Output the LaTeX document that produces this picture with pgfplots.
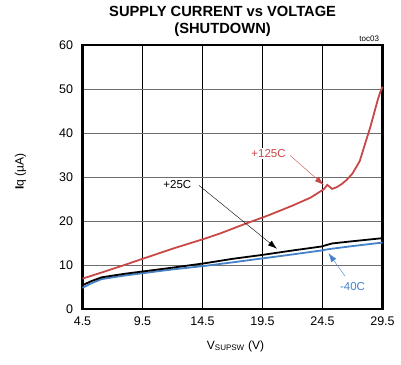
\documentclass[border=0pt]{standalone}
\usepackage{pgfplots}
\pgfplotsset{compat=1.18}
\usetikzlibrary{arrows.meta}
\usepackage{fontspec}
\setmainfont{Liberation Sans}
\definecolor{rc}{RGB}{200,72,72}
\definecolor{bc}{RGB}{70,130,200}
\definecolor{gc}{RGB}{110,110,110}
\begin{document}
\begin{tikzpicture}
\useasboundingbox (-82.5pt,-55pt) rectangle (318.5pt,309pt);
\begin{axis}[
  at={(0pt,0pt)}, anchor=south west,
  scale only axis, width=300pt, height=264pt,
  xmin=4.5, xmax=29.5, ymin=0, ymax=60,
  xtick={4.5,9.5,14.5,19.5,24.5,29.5},
  ytick={0,10,20,30,40,50,60},
  xticklabels={4.5,9.5,14.5,19.5,24.5,29.5},
  major tick length=0pt,
  /pgf/number format/assume math mode=true,
  tick label style={font=\fontsize{12.5}{14}\selectfont},
  yticklabel style={xshift=-6pt},
  xticklabel style={yshift=-4pt},
  axis line style={line width=2.2pt},
  xmajorgrids, ymajorgrids,
  x grid style={black, line width=0.9pt},
  y grid style={gc, line width=0.9pt},
  clip=false,
]
\addplot[rc, line width=1.8pt] coordinates {
(4.5,6.9) (6.1,8.3) (8,10.0) (9.5,11.4) (12,13.7) (14.7,16.0) (16,17.2) (18,19.3) (20,21.3) (22,23.5) (23.5,25.3) (24.6,27.2) (24.9,28.2) (25.3,27.3) (25.7,27.7) (26.1,28.4) (26.5,29.3) (27,30.8) (27.6,33.6) (28.1,38.0) (28.5,41.5) (28.8,44.5) (29.1,47.5) (29.3,49.2) (29.5,50.5)};
\addplot[bc, line width=1.8pt] coordinates {
(4.5,4.8) (5.2,5.8) (6.1,6.8) (8,7.6) (10,8.3) (12,9.0) (14.7,9.8) (17,10.6) (19.5,11.5) (22,12.4) (24.4,13.3) (25,13.6) (27,14.3) (29.5,15.1)};
\addplot[black, line width=1.8pt] coordinates {
(4.5,5.4) (5.2,6.3) (6.1,7.2) (8,8.0) (10,8.7) (12,9.4) (14.7,10.4) (17,11.4) (19.5,12.3) (22,13.3) (24.4,14.2) (25.3,14.9) (27,15.4) (29.5,16.1)};
\node[rc, fill=white, inner sep=1.5pt, font=\fontsize{11.5}{13}\selectfont] at (axis cs:20.0,35.3) {+125C};
\draw[rc, -{Latex[length=9pt,width=6pt]}] (axis cs:21.8,34.9) -- (axis cs:24.6,28.2);
\node[fill=white, inner sep=1.5pt, font=\fontsize{11.5}{13}\selectfont] at (axis cs:12.4,28.4) {+25C};
\draw[black, -{Latex[length=9pt,width=6pt]}] (axis cs:14.2,28.1) -- (axis cs:20.7,13.7);
\node[bc, inner sep=1.5pt, font=\fontsize{11.5}{13}\selectfont] at (axis cs:27.0,5.1) {-40C};
\draw[bc, -{Latex[length=9pt,width=6pt]}] (axis cs:26.4,7.4) -- (axis cs:25.0,12.7);
\node[font=\fontsize{8}{9}\selectfont, anchor=south east] at (rel axis cs:1,1) {toc03};
\node[font=\bfseries\fontsize{14.7}{17}\selectfont, align=center] at (rel axis cs:0.467,1.088) {SUPPLY CURRENT vs VOLTAGE\\(SHUTDOWN)};
\node[font=\fontsize{12}{14}\selectfont] at (rel axis cs:0.51,-0.14) {V\textsubscript{SUPSW} (V)};
\node[font=\fontsize{12}{14}\selectfont, rotate=90] at (rel axis cs:-0.207,0.52) {\textbf{I}q (µA)};
\end{axis}
\end{tikzpicture}
\end{document}
